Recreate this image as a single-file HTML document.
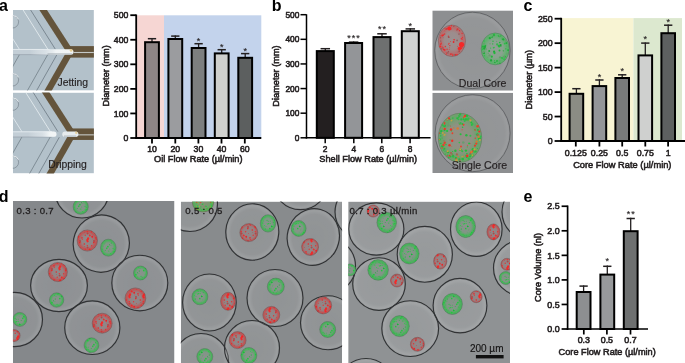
<!DOCTYPE html>
<html><head><meta charset="utf-8"><title>Figure</title>
<style>
html,body{margin:0;padding:0;background:#fff;}
body{width:685px;height:363px;overflow:hidden;}
svg{display:block;}
text{font-family:"Liberation Sans", Arial, Helvetica, sans-serif;}
.c text{stroke:#231f20;stroke-width:0.55px;}
.pl{stroke:#231f20;stroke-width:0.15px;}
</style></head>
<body>
<svg width="685" height="363" viewBox="0 0 685 363">
<defs>
<pattern id="rsp" width="14" height="14" patternUnits="userSpaceOnUse">
<rect width="14" height="14" fill="#8d8a8b"/>
<circle cx="3.3" cy="7.6" r="0.68" fill="#f42a2a"/>
<circle cx="8.8" cy="0.9" r="0.41" fill="#f42a2a"/>
<circle cx="3.6" cy="3.3" r="1.15" fill="#f42a2a"/>
<circle cx="7.6" cy="7.7" r="0.70" fill="#e03436"/>
<circle cx="3.2" cy="2.1" r="1.09" fill="#f42a2a"/>
<circle cx="10.4" cy="9.4" r="0.45" fill="#e82628"/>
<circle cx="4.2" cy="0.4" r="1.05" fill="#f42a2a"/>
<circle cx="4.2" cy="14.4" r="1.05" fill="#f42a2a"/>
<circle cx="8.3" cy="12.9" r="0.69" fill="#f42a2a"/>
<circle cx="5.5" cy="11.2" r="0.73" fill="#e03436"/>
<circle cx="12.3" cy="1.4" r="0.50" fill="#e03436"/>
<circle cx="3.6" cy="9.4" r="0.98" fill="#a05050"/>
<circle cx="5.9" cy="11.7" r="0.83" fill="#f42a2a"/>
<circle cx="8.2" cy="12.7" r="0.91" fill="#e82628"/>
<circle cx="12.0" cy="-0.1" r="0.90" fill="#e03436"/>
<circle cx="12.0" cy="13.9" r="0.90" fill="#e03436"/>
<circle cx="9.8" cy="4.6" r="0.81" fill="#e82628"/>
<circle cx="10.0" cy="3.0" r="1.02" fill="#a05050"/>
<circle cx="4.0" cy="0.9" r="1.04" fill="#f42a2a"/>
<circle cx="4.0" cy="14.9" r="1.04" fill="#f42a2a"/>
<circle cx="1.2" cy="11.2" r="0.71" fill="#e03436"/>
<circle cx="0.3" cy="6.0" r="0.71" fill="#e82628"/>
<circle cx="14.3" cy="6.0" r="0.71" fill="#e82628"/>
<circle cx="0.6" cy="8.6" r="0.43" fill="#a05050"/>
</pattern>
<pattern id="gsp" width="14" height="14" patternUnits="userSpaceOnUse">
<rect width="14" height="14" fill="#8a918d"/>
<circle cx="8.7" cy="10.4" r="0.79" fill="#1ec83c"/>
<circle cx="11.8" cy="10.9" r="0.49" fill="#1ec83c"/>
<circle cx="12.6" cy="1.6" r="0.61" fill="#30cc4a"/>
<circle cx="5.3" cy="1.4" r="0.49" fill="#30cc4a"/>
<circle cx="5.7" cy="2.5" r="0.83" fill="#18b03a"/>
<circle cx="2.2" cy="11.2" r="0.43" fill="#18b03a"/>
<circle cx="1.8" cy="0.0" r="0.83" fill="#30cc4a"/>
<circle cx="1.8" cy="14.0" r="0.83" fill="#30cc4a"/>
<circle cx="10.8" cy="13.4" r="0.44" fill="#30cc4a"/>
<circle cx="4.1" cy="-0.5" r="0.65" fill="#30cc4a"/>
<circle cx="4.1" cy="13.5" r="0.65" fill="#30cc4a"/>
<circle cx="2.5" cy="-0.4" r="0.46" fill="#18b03a"/>
<circle cx="2.5" cy="13.6" r="0.46" fill="#18b03a"/>
<circle cx="4.2" cy="5.1" r="0.44" fill="#30cc4a"/>
<circle cx="3.7" cy="4.6" r="0.80" fill="#1ec83c"/>
<circle cx="8.3" cy="9.9" r="0.39" fill="#5aa868"/>
<circle cx="11.5" cy="6.7" r="0.52" fill="#18b03a"/>
<circle cx="6.6" cy="2.5" r="0.49" fill="#1ec83c"/>
<circle cx="13.3" cy="5.0" r="0.57" fill="#18b03a"/>
<circle cx="5.1" cy="8.1" r="0.35" fill="#1ec83c"/>
<circle cx="9.9" cy="8.7" r="0.87" fill="#1ec83c"/>
<circle cx="10.6" cy="13.0" r="0.87" fill="#5aa868"/>
<circle cx="7.2" cy="12.5" r="0.49" fill="#18b03a"/>
<circle cx="1.5" cy="10.5" r="0.79" fill="#5aa868"/>
<circle cx="0.5" cy="13.2" r="0.40" fill="#5aa868"/>
<circle cx="7.2" cy="5.1" r="0.43" fill="#5aa868"/>
<circle cx="12.9" cy="7.6" r="0.52" fill="#5aa868"/>
<circle cx="4.3" cy="11.2" r="0.69" fill="#5aa868"/>
<circle cx="-0.0" cy="2.3" r="0.38" fill="#18b03a"/>
<circle cx="14.0" cy="2.3" r="0.38" fill="#18b03a"/>
<circle cx="0.4" cy="10.4" r="0.54" fill="#5aa868"/>
<circle cx="14.4" cy="10.4" r="0.54" fill="#5aa868"/>
<circle cx="6.4" cy="5.9" r="0.38" fill="#1ec83c"/>
</pattern>
<pattern id="qsp" width="14" height="14" patternUnits="userSpaceOnUse">
<rect width="14" height="14" fill="#918c8c"/>
<circle cx="6.3" cy="7.8" r="0.86" fill="#c84040"/>
<circle cx="6.3" cy="12.0" r="0.45" fill="#c84040"/>
<circle cx="8.8" cy="11.1" r="0.40" fill="#c84040"/>
<circle cx="2.0" cy="7.5" r="0.84" fill="#d83030"/>
<circle cx="8.3" cy="5.5" r="0.60" fill="#d83030"/>
<circle cx="8.7" cy="11.6" r="0.38" fill="#d83030"/>
<circle cx="2.7" cy="3.4" r="0.37" fill="#c84040"/>
<circle cx="4.6" cy="8.3" r="0.46" fill="#d83030"/>
<circle cx="9.0" cy="7.0" r="0.71" fill="#c84040"/>
<circle cx="9.2" cy="5.7" r="0.65" fill="#d83030"/>
</pattern>
<pattern id="msp" width="14" height="14" patternUnits="userSpaceOnUse">
<rect width="14" height="14" fill="#8c8f7c"/>
<circle cx="6.5" cy="5.2" r="0.43" fill="#2fb84e"/>
<circle cx="4.7" cy="6.5" r="0.68" fill="#e0402a"/>
<circle cx="7.8" cy="8.6" r="0.37" fill="#d08a3a"/>
<circle cx="2.4" cy="-0.8" r="0.87" fill="#d08a3a"/>
<circle cx="2.4" cy="13.2" r="0.87" fill="#d08a3a"/>
<circle cx="2.2" cy="3.3" r="0.41" fill="#c8a040"/>
<circle cx="12.2" cy="-0.1" r="0.38" fill="#d08a3a"/>
<circle cx="12.2" cy="13.9" r="0.38" fill="#d08a3a"/>
<circle cx="11.1" cy="12.4" r="0.86" fill="#3cc45a"/>
<circle cx="9.4" cy="10.2" r="0.58" fill="#2fb84e"/>
<circle cx="10.8" cy="12.8" r="0.57" fill="#e0402a"/>
<circle cx="11.3" cy="2.8" r="0.84" fill="#d08a3a"/>
<circle cx="0.8" cy="5.3" r="0.62" fill="#2fb84e"/>
<circle cx="3.3" cy="10.3" r="0.82" fill="#c8a040"/>
<circle cx="0.1" cy="10.7" r="0.46" fill="#3cc45a"/>
<circle cx="14.1" cy="10.7" r="0.46" fill="#3cc45a"/>
<circle cx="4.6" cy="12.5" r="0.42" fill="#2fb84e"/>
<circle cx="7.0" cy="8.0" r="0.65" fill="#3cc45a"/>
<circle cx="5.9" cy="5.6" r="0.70" fill="#2fb84e"/>
<circle cx="9.8" cy="2.0" r="0.87" fill="#2fb84e"/>
<circle cx="0.8" cy="7.8" r="0.68" fill="#3cc45a"/>
<circle cx="10.4" cy="10.3" r="0.67" fill="#2fb84e"/>
<circle cx="1.7" cy="9.9" r="0.87" fill="#3cc45a"/>
<circle cx="2.3" cy="7.1" r="0.75" fill="#c8a040"/>
<circle cx="8.3" cy="10.8" r="0.40" fill="#e0402a"/>
<circle cx="1.5" cy="12.3" r="0.55" fill="#3cc45a"/>
<circle cx="5.6" cy="-0.2" r="0.67" fill="#2fb84e"/>
<circle cx="5.6" cy="13.8" r="0.67" fill="#2fb84e"/>
<circle cx="5.3" cy="8.5" r="0.35" fill="#2fb84e"/>
<circle cx="3.0" cy="6.2" r="0.53" fill="#2fb84e"/>
<circle cx="4.3" cy="4.0" r="0.63" fill="#2fb84e"/>
<circle cx="0.4" cy="10.9" r="0.79" fill="#d08a3a"/>
<circle cx="14.4" cy="10.9" r="0.79" fill="#d08a3a"/>
<circle cx="4.8" cy="10.9" r="0.66" fill="#2fb84e"/>
<circle cx="6.0" cy="3.2" r="0.88" fill="#d08a3a"/>
<circle cx="7.1" cy="-0.6" r="0.66" fill="#3cc45a"/>
<circle cx="7.1" cy="13.4" r="0.66" fill="#3cc45a"/>
<circle cx="9.3" cy="2.4" r="0.81" fill="#e0402a"/>
<circle cx="0.4" cy="13.2" r="0.80" fill="#e0402a"/>
<circle cx="14.4" cy="13.2" r="0.80" fill="#e0402a"/>
<circle cx="13.3" cy="-0.2" r="0.68" fill="#2fb84e"/>
<circle cx="13.3" cy="13.8" r="0.68" fill="#2fb84e"/>
<circle cx="0.7" cy="6.3" r="0.78" fill="#e0402a"/>
<circle cx="14.7" cy="6.3" r="0.78" fill="#e0402a"/>
<circle cx="8.6" cy="-0.5" r="0.54" fill="#3cc45a"/>
<circle cx="8.6" cy="13.5" r="0.54" fill="#3cc45a"/>
<circle cx="6.7" cy="3.9" r="0.88" fill="#c8a040"/>
<circle cx="4.1" cy="1.7" r="0.58" fill="#3cc45a"/>
<circle cx="9.9" cy="10.7" r="0.56" fill="#3cc45a"/>
<circle cx="9.3" cy="3.8" r="0.68" fill="#c8a040"/>
<circle cx="6.9" cy="1.4" r="0.38" fill="#c8a040"/>
<circle cx="1.8" cy="11.2" r="0.80" fill="#3cc45a"/>
<circle cx="10.9" cy="3.1" r="0.36" fill="#3cc45a"/>
<circle cx="6.6" cy="8.3" r="0.65" fill="#2fb84e"/>
</pattern>
<linearGradient id="jetg" x1="0" y1="0" x2="1" y2="0">
  <stop offset="0" stop-color="#eef2f3" stop-opacity="0"/><stop offset="0.35" stop-color="#e4eaee" stop-opacity="0.6"/>
  <stop offset="0.6" stop-color="#f0f4f5"/><stop offset="1" stop-color="#f2f5f6"/>
</linearGradient>
<linearGradient id="jetg2" x1="0" y1="0" x2="1" y2="0">
  <stop offset="0" stop-color="#eef2f3" stop-opacity="0"/><stop offset="0.5" stop-color="#e4eaee" stop-opacity="0.6"/>
  <stop offset="0.75" stop-color="#f0f4f5"/><stop offset="1" stop-color="#f2f5f6"/>
</linearGradient>
<filter id="soft" x="-5%" y="-5%" width="110%" height="110%"><feGaussianBlur stdDeviation="0.35"/></filter>
<radialGradient id="dropg" cx="0.5" cy="0.5" r="0.5">
  <stop offset="0" stop-color="#fff" stop-opacity="0.07"/><stop offset="0.8" stop-color="#fff" stop-opacity="0.09"/>
  <stop offset="0.93" stop-color="#fff" stop-opacity="0.17"/><stop offset="1" stop-color="#fff" stop-opacity="0.05"/>
</radialGradient>
<radialGradient id="dropb" cx="0.5" cy="0.5" r="0.5">
  <stop offset="0" stop-color="#fff" stop-opacity="0.05"/><stop offset="0.85" stop-color="#fff" stop-opacity="0.065"/>
  <stop offset="0.95" stop-color="#fff" stop-opacity="0.12"/><stop offset="1" stop-color="#fff" stop-opacity="0.04"/>
</radialGradient>
<radialGradient id="gring" cx="0.5" cy="0.5" r="0.5">
  <stop offset="0" stop-color="#24c43e" stop-opacity="0"/><stop offset="0.55" stop-color="#24c43e" stop-opacity="0.08"/>
  <stop offset="0.86" stop-color="#1ec83a" stop-opacity="0.62"/><stop offset="1" stop-color="#1ec83a" stop-opacity="0.45"/>
</radialGradient>
<radialGradient id="rring" cx="0.5" cy="0.5" r="0.5">
  <stop offset="0" stop-color="#e02828" stop-opacity="0"/><stop offset="0.55" stop-color="#e02828" stop-opacity="0.06"/>
  <stop offset="0.86" stop-color="#ec2424" stop-opacity="0.55"/><stop offset="1" stop-color="#ec2424" stop-opacity="0.35"/>
</radialGradient>
<radialGradient id="qring" cx="0.5" cy="0.5" r="0.5">
  <stop offset="0" stop-color="#e02828" stop-opacity="0"/><stop offset="0.7" stop-color="#e02828" stop-opacity="0.1"/>
  <stop offset="0.92" stop-color="#e02828" stop-opacity="0.5"/><stop offset="1" stop-color="#e02828" stop-opacity="0.3"/>
</radialGradient>
<radialGradient id="mring" cx="0.5" cy="0.5" r="0.5">
  <stop offset="0" stop-color="#40b050" stop-opacity="0.05"/><stop offset="0.6" stop-color="#30c040" stop-opacity="0.2"/>
  <stop offset="0.86" stop-color="#28c43c" stop-opacity="0.55"/><stop offset="1" stop-color="#28c43c" stop-opacity="0.4"/>
</radialGradient>
</defs>
<rect width="685" height="363" fill="#fff"/>
<clipPath id="cpa1"><rect x="12.9" y="10.0" width="81.0" height="80.6"/></clipPath>
<g clip-path="url(#cpa1)">
<rect x="12.9" y="10.0" width="81.0" height="80.6" fill="#b3c1ca"/>
<rect x="12.9" y="49.25" width="38.6" height="5.4" fill="#c3ced6"/>
<line x1="12.9" y1="49.45" x2="49.5" y2="49.45" stroke="#eef3f5" stroke-width="0.8"/>
<line x1="12.9" y1="54.65" x2="49.5" y2="54.65" stroke="#8d99a2" stroke-width="0.6"/>
<line x1="21.24" y1="7.0" x2="47.86" y2="49.25" stroke="#eaf0f3" stroke-width="0.8"/>
<line x1="28.74" y1="7.0" x2="55.36" y2="49.25" stroke="#56626c" stroke-width="0.6"/>
<line x1="-7.26" y1="7.0" x2="19.36" y2="49.25" stroke="#e6edf1" stroke-width="0.8"/>
<line x1="47.60" y1="54.85" x2="25.71" y2="93.6" stroke="#5d6972" stroke-width="0.6"/>
<line x1="56.80" y1="54.85" x2="34.91" y2="93.6" stroke="#56626c" stroke-width="0.6"/>
<line x1="19.30" y1="54.85" x2="-2.59" y2="93.6" stroke="#5d6972" stroke-width="0.6"/>
<line x1="41.24" y1="7.0" x2="70.10" y2="51.85" stroke="#64543b" stroke-width="6.4"/>
<line x1="70.10" y1="51.85" x2="46.41" y2="93.6" stroke="#64543b" stroke-width="6.4"/>
<rect x="69.5" y="46.1" width="81.0" height="11.5" fill="#64543b"/>
<rect x="73.5" y="51.95" width="81.0" height="1.1" fill="#c4c8c6"/>
<circle cx="12.4" cy="21.85" r="6.2" fill="#b8c5cd" stroke="#6f7b84" stroke-width="0.6"/>
<path d="M 12.9 15.55 A 6.3 6.3 0 0 1 18.5 19.35" fill="none" stroke="#eef3f5" stroke-width="0.9"/>
<circle cx="12.4" cy="79.85" r="6.2" fill="#b8c5cd" stroke="#6f7b84" stroke-width="0.6"/>
<path d="M 12.9 73.55 A 6.3 6.3 0 0 1 18.5 77.35" fill="none" stroke="#eef3f5" stroke-width="0.9"/>
<rect x="29.5" y="49.15" width="44" height="5.5" rx="2.75" fill="url(#jetg)"/>
<rect x="47.5" y="53.25" width="25" height="1.4" fill="#9aa5ac" opacity="0.6"/>
<circle cx="71.1" cy="50.45" r="1.4" fill="#e5c98a" opacity="0.85"/>
</g>
<clipPath id="cpa2"><rect x="12.9" y="92.6" width="81.0" height="80.8"/></clipPath>
<g clip-path="url(#cpa2)">
<rect x="12.9" y="92.6" width="81.0" height="80.8" fill="#b3c1ca"/>
<rect x="12.9" y="131.6" width="41.1" height="5.4" fill="#c3ced6"/>
<line x1="12.9" y1="131.79999999999998" x2="52.0" y2="131.79999999999998" stroke="#eef3f5" stroke-width="0.8"/>
<line x1="12.9" y1="137.0" x2="52.0" y2="137.0" stroke="#8d99a2" stroke-width="0.6"/>
<line x1="23.90" y1="89.6" x2="50.36" y2="131.6" stroke="#eaf0f3" stroke-width="0.8"/>
<line x1="31.40" y1="89.6" x2="57.86" y2="131.6" stroke="#56626c" stroke-width="0.6"/>
<line x1="-4.60" y1="89.6" x2="21.86" y2="131.6" stroke="#e6edf1" stroke-width="0.8"/>
<line x1="50.10" y1="137.2" x2="27.96" y2="176.39999999999998" stroke="#5d6972" stroke-width="0.6"/>
<line x1="59.30" y1="137.2" x2="37.16" y2="176.39999999999998" stroke="#56626c" stroke-width="0.6"/>
<line x1="21.80" y1="137.2" x2="-0.34" y2="176.39999999999998" stroke="#5d6972" stroke-width="0.6"/>
<line x1="43.90" y1="89.6" x2="72.60" y2="134.2" stroke="#64543b" stroke-width="6.4"/>
<line x1="72.60" y1="134.2" x2="48.66" y2="176.39999999999998" stroke="#64543b" stroke-width="6.4"/>
<rect x="72.0" y="128.45" width="81.0" height="11.5" fill="#64543b"/>
<rect x="76.0" y="134.29999999999998" width="81.0" height="1.1" fill="#c4c8c6"/>
<circle cx="12.4" cy="104.19999999999999" r="6.2" fill="#b8c5cd" stroke="#6f7b84" stroke-width="0.6"/>
<path d="M 12.9 97.89999999999999 A 6.3 6.3 0 0 1 18.5 101.69999999999999" fill="none" stroke="#eef3f5" stroke-width="0.9"/>
<circle cx="12.4" cy="162.2" r="6.2" fill="#b8c5cd" stroke="#6f7b84" stroke-width="0.6"/>
<path d="M 12.9 155.89999999999998 A 6.3 6.3 0 0 1 18.5 159.7" fill="none" stroke="#eef3f5" stroke-width="0.9"/>
<rect x="28.0" y="131.6" width="28.5" height="5.2" rx="2.6" fill="url(#jetg2)"/>
<rect x="62.3" y="131.6" width="16.1" height="5.4" rx="2.7" fill="#e6ebed"/>
<rect x="64.0" y="135.5" width="12" height="1.3" fill="#9aa4aa" opacity="0.6"/>
<circle cx="76.3" cy="132.79999999999998" r="1.2" fill="#e5c98a" opacity="0.8"/>
</g>
<text x="57.50" y="85.70" font-size="10.4" text-anchor="start" font-weight="normal" fill="#231f20" class="pl">Jetting</text>
<text x="48.20" y="167.80" font-size="10.4" text-anchor="start" font-weight="normal" fill="#231f20" class="pl">Dripping</text>
<clipPath id="cpb1"><rect x="432.3" y="10.4" width="80.7" height="80.3"/></clipPath>
<g clip-path="url(#cpb1)">
<rect x="432.3" y="10.4" width="80.7" height="80.3" fill="#8d8f91"/>
<g filter="url(#soft)">
<ellipse cx="472.4" cy="50.4" rx="37.7" ry="38.2" fill="url(#dropb)" stroke="#55575a" stroke-width="0.75"/>
</g></g>
<ellipse cx="451.9" cy="40.8" rx="13.6" ry="15.8" fill="#9a9090" stroke="#6a5858" stroke-width="0.5"/>
<ellipse cx="451.9" cy="40.8" rx="13.6" ry="15.8" fill="url(#rring)" opacity="0.6"/>
<circle cx="448.4" cy="36.2" r="0.69" fill="#d8383a"/>
<circle cx="457.1" cy="54.6" r="0.72" fill="#e8242a"/>
<circle cx="450.5" cy="41.6" r="0.49" fill="#d8383a"/>
<circle cx="440.3" cy="46.4" r="1.00" fill="#f42828"/>
<circle cx="440.8" cy="41.0" r="0.47" fill="#a05050"/>
<circle cx="453.6" cy="42.0" r="0.89" fill="#e8242a"/>
<circle cx="447.1" cy="49.3" r="0.69" fill="#d8383a"/>
<circle cx="463.1" cy="47.4" r="0.52" fill="#906060"/>
<circle cx="440.9" cy="35.8" r="0.63" fill="#a05050"/>
<circle cx="441.3" cy="48.6" r="0.62" fill="#f42828"/>
<circle cx="450.8" cy="54.2" r="0.90" fill="#d8383a"/>
<circle cx="440.8" cy="41.1" r="0.69" fill="#906060"/>
<circle cx="442.8" cy="35.7" r="0.59" fill="#906060"/>
<circle cx="448.8" cy="37.2" r="0.90" fill="#a05050"/>
<circle cx="449.2" cy="49.2" r="0.46" fill="#e8242a"/>
<circle cx="458.0" cy="52.0" r="0.42" fill="#906060"/>
<circle cx="441.6" cy="48.7" r="0.99" fill="#906060"/>
<circle cx="446.1" cy="29.1" r="0.96" fill="#d8383a"/>
<circle cx="453.8" cy="26.4" r="0.69" fill="#a05050"/>
<circle cx="442.3" cy="47.0" r="0.50" fill="#e8242a"/>
<circle cx="459.3" cy="52.0" r="0.49" fill="#f42828"/>
<circle cx="462.1" cy="33.4" r="0.69" fill="#d8383a"/>
<circle cx="444.7" cy="49.9" r="0.86" fill="#f42828"/>
<circle cx="448.4" cy="51.6" r="0.72" fill="#a05050"/>
<circle cx="448.3" cy="44.6" r="0.48" fill="#e8242a"/>
<circle cx="462.4" cy="37.3" r="0.65" fill="#f42828"/>
<circle cx="459.2" cy="50.9" r="0.49" fill="#f42828"/>
<circle cx="459.2" cy="51.1" r="0.92" fill="#a05050"/>
<circle cx="449.8" cy="45.6" r="0.70" fill="#d8383a"/>
<circle cx="455.7" cy="54.8" r="0.85" fill="#e8242a"/>
<circle cx="451.6" cy="29.0" r="0.43" fill="#e8242a"/>
<circle cx="445.4" cy="46.4" r="0.74" fill="#d8383a"/>
<circle cx="449.3" cy="47.8" r="0.43" fill="#f42828"/>
<circle cx="457.1" cy="40.4" r="0.89" fill="#906060"/>
<circle cx="443.1" cy="37.8" r="0.44" fill="#906060"/>
<circle cx="447.8" cy="52.9" r="0.82" fill="#906060"/>
<circle cx="446.4" cy="53.1" r="0.52" fill="#e8242a"/>
<circle cx="457.6" cy="46.2" r="0.45" fill="#e8242a"/>
<circle cx="462.1" cy="39.1" r="0.70" fill="#e8242a"/>
<circle cx="441.3" cy="43.1" r="0.71" fill="#f42828"/>
<circle cx="463.6" cy="44.5" r="0.57" fill="#906060"/>
<circle cx="440.5" cy="44.5" r="0.54" fill="#f42828"/>
<circle cx="444.7" cy="28.5" r="0.42" fill="#d8383a"/>
<circle cx="459.0" cy="34.0" r="0.87" fill="#906060"/>
<circle cx="448.5" cy="29.0" r="0.81" fill="#d8383a"/>
<circle cx="443.7" cy="49.5" r="0.71" fill="#e8242a"/>
<circle cx="449.2" cy="26.4" r="0.45" fill="#d8383a"/>
<circle cx="451.3" cy="25.8" r="0.68" fill="#e8242a"/>
<circle cx="446.9" cy="28.8" r="0.62" fill="#906060"/>
<circle cx="446.2" cy="54.3" r="0.55" fill="#d8383a"/>
<circle cx="452.8" cy="55.1" r="0.81" fill="#f42828"/>
<circle cx="440.9" cy="44.0" r="0.80" fill="#d8383a"/>
<circle cx="460.6" cy="48.0" r="0.99" fill="#d8383a"/>
<circle cx="454.1" cy="39.7" r="0.82" fill="#e8242a"/>
<circle cx="449.0" cy="43.3" r="0.66" fill="#f42828"/>
<circle cx="461.6" cy="48.4" r="0.59" fill="#f42828"/>
<circle cx="442.3" cy="35.5" r="0.95" fill="#f42828"/>
<circle cx="443.1" cy="47.9" r="0.73" fill="#d8383a"/>
<circle cx="443.4" cy="35.0" r="0.68" fill="#e8242a"/>
<circle cx="457.6" cy="29.3" r="0.99" fill="#d8383a"/>
<circle cx="440.5" cy="37.8" r="0.69" fill="#a05050"/>
<circle cx="444.9" cy="30.9" r="0.41" fill="#e8242a"/>
<circle cx="456.8" cy="30.1" r="0.62" fill="#a05050"/>
<circle cx="447.0" cy="28.6" r="0.79" fill="#d8383a"/>
<circle cx="451.9" cy="53.8" r="0.52" fill="#d8383a"/>
<circle cx="461.7" cy="46.9" r="0.90" fill="#d8383a"/>
<circle cx="444.6" cy="34.1" r="0.78" fill="#d8383a"/>
<circle cx="459.5" cy="30.7" r="0.66" fill="#e8242a"/>
<circle cx="454.4" cy="54.9" r="0.87" fill="#906060"/>
<circle cx="461.3" cy="38.7" r="0.63" fill="#f42828"/>
<circle cx="449.3" cy="28.4" r="2.0" fill="#f42828"/><circle cx="461.5" cy="44.5" r="2.6" fill="#f42828"/><circle cx="459.5" cy="48.5" r="1.8" fill="#f42828"/>
<ellipse cx="495.2" cy="48.9" rx="14.0" ry="15.9" fill="#90a094" stroke="#4a6a52" stroke-width="0.5"/>
<ellipse cx="495.2" cy="48.9" rx="14.0" ry="15.9" fill="url(#gring)" opacity="0.75"/>
<circle cx="505.8" cy="48.8" r="0.63" fill="#22b83c"/>
<circle cx="498.3" cy="36.2" r="0.56" fill="#6a9c70"/>
<circle cx="506.4" cy="43.1" r="0.98" fill="#20a83a"/>
<circle cx="484.1" cy="41.0" r="0.72" fill="#30bc4a"/>
<circle cx="493.6" cy="35.3" r="1.19" fill="#6a9a70"/>
<circle cx="499.8" cy="60.8" r="0.78" fill="#6a9a70"/>
<circle cx="492.7" cy="43.9" r="0.63" fill="#22b83c"/>
<circle cx="488.3" cy="53.2" r="0.68" fill="#6a9c70"/>
<circle cx="506.0" cy="41.8" r="0.72" fill="#6a9c70"/>
<circle cx="483.9" cy="43.7" r="0.87" fill="#6a9a70"/>
<circle cx="504.8" cy="56.7" r="1.05" fill="#22b83c"/>
<circle cx="482.3" cy="47.8" r="0.78" fill="#22b83c"/>
<circle cx="487.7" cy="57.3" r="0.63" fill="#6a9c70"/>
<circle cx="502.3" cy="58.0" r="1.05" fill="#30bc4a"/>
<circle cx="503.2" cy="57.6" r="0.60" fill="#6a9a70"/>
<circle cx="486.1" cy="49.0" r="0.87" fill="#6a9a70"/>
<circle cx="499.7" cy="42.6" r="0.83" fill="#22b83c"/>
<circle cx="500.6" cy="35.7" r="0.93" fill="#22b83c"/>
<circle cx="494.0" cy="47.4" r="0.74" fill="#30bc4a"/>
<circle cx="491.9" cy="37.4" r="0.62" fill="#22b83c"/>
<circle cx="497.5" cy="60.9" r="0.68" fill="#22b83c"/>
<circle cx="484.6" cy="51.2" r="0.65" fill="#6a9c70"/>
<circle cx="490.6" cy="48.1" r="0.63" fill="#30bc4a"/>
<circle cx="503.3" cy="50.8" r="0.64" fill="#20a83a"/>
<circle cx="484.3" cy="55.8" r="0.68" fill="#30bc4a"/>
<circle cx="499.3" cy="46.7" r="0.90" fill="#30bc4a"/>
<circle cx="507.1" cy="53.9" r="0.85" fill="#6a9a70"/>
<circle cx="493.0" cy="41.2" r="0.69" fill="#22b83c"/>
<circle cx="489.2" cy="51.0" r="0.96" fill="#20a83a"/>
<circle cx="502.7" cy="39.0" r="1.07" fill="#22b83c"/>
<circle cx="504.0" cy="56.9" r="1.09" fill="#6a9a70"/>
<circle cx="482.3" cy="47.7" r="0.63" fill="#6a9c70"/>
<circle cx="482.4" cy="49.3" r="0.85" fill="#30bc4a"/>
<circle cx="503.4" cy="39.5" r="1.03" fill="#20a83a"/>
<circle cx="492.3" cy="36.9" r="0.56" fill="#20a83a"/>
<circle cx="502.3" cy="37.9" r="0.64" fill="#6a9c70"/>
<circle cx="482.9" cy="46.5" r="1.04" fill="#22b83c"/>
<circle cx="499.5" cy="50.5" r="0.94" fill="#22b83c"/>
<circle cx="484.2" cy="48.5" r="1.16" fill="#20a83a"/>
<circle cx="485.5" cy="45.4" r="0.73" fill="#22b83c"/>
<circle cx="487.8" cy="37.1" r="0.72" fill="#6a9c70"/>
<circle cx="490.9" cy="60.2" r="1.12" fill="#6a9c70"/>
<circle cx="497.2" cy="44.3" r="1.14" fill="#30bc4a"/>
<circle cx="499.7" cy="36.8" r="0.71" fill="#6a9a70"/>
<circle cx="500.6" cy="45.1" r="1.13" fill="#20a83a"/>
<circle cx="497.8" cy="63.5" r="0.59" fill="#30bc4a"/>
<circle cx="484.2" cy="53.4" r="0.68" fill="#30bc4a"/>
<circle cx="499.0" cy="36.1" r="0.85" fill="#22b83c"/>
<circle cx="489.8" cy="38.2" r="1.13" fill="#20a83a"/>
<circle cx="499.7" cy="35.6" r="0.97" fill="#6a9c70"/>
<circle cx="500.9" cy="46.2" r="0.58" fill="#20a83a"/>
<circle cx="498.3" cy="35.6" r="0.69" fill="#30bc4a"/>
<circle cx="493.5" cy="47.8" r="0.71" fill="#30bc4a"/>
<circle cx="494.3" cy="34.4" r="0.81" fill="#30bc4a"/>
<circle cx="483.9" cy="53.0" r="1.06" fill="#20a83a"/>
<circle cx="496.6" cy="41.3" r="0.66" fill="#6a9a70"/>
<circle cx="504.7" cy="43.6" r="0.93" fill="#30bc4a"/>
<circle cx="489.6" cy="55.4" r="1.19" fill="#6a9a70"/>
<circle cx="506.5" cy="46.1" r="0.60" fill="#6a9a70"/>
<circle cx="504.1" cy="59.3" r="0.98" fill="#30bc4a"/>
<circle cx="494.6" cy="35.3" r="0.51" fill="#30bc4a"/>
<circle cx="500.1" cy="57.4" r="1.16" fill="#6a9a70"/>
<circle cx="494.5" cy="60.7" r="0.58" fill="#30bc4a"/>
<circle cx="494.9" cy="62.5" r="0.81" fill="#20a83a"/>
<circle cx="491.8" cy="56.7" r="1.09" fill="#22b83c"/>
<circle cx="484.9" cy="46.7" r="1.18" fill="#20a83a"/>
<circle cx="493.9" cy="35.6" r="0.66" fill="#20a83a"/>
<circle cx="490.0" cy="43.7" r="0.69" fill="#6a9c70"/>
<circle cx="505.9" cy="40.6" r="0.98" fill="#6a9a70"/>
<circle cx="508.1" cy="50.1" r="0.96" fill="#20a83a"/>
<circle cx="497.4" cy="45.6" r="0.77" fill="#6a9c70"/>
<circle cx="498.9" cy="46.0" r="1.15" fill="#22b83c"/>
<circle cx="494.1" cy="51.7" r="1.08" fill="#20a83a"/>
<circle cx="499.9" cy="63.2" r="0.80" fill="#20a83a"/>
<circle cx="493.8" cy="34.8" r="0.76" fill="#22b83c"/>
<circle cx="501.5" cy="57.8" r="0.80" fill="#30bc4a"/>
<circle cx="494.5" cy="53.0" r="1.13" fill="#22b83c"/>
<circle cx="483.5" cy="52.3" r="0.93" fill="#6a9a70"/>
<circle cx="491.1" cy="60.4" r="1.10" fill="#20a83a"/>
<circle cx="496.7" cy="61.1" r="0.75" fill="#20a83a"/>
<clipPath id="cpb2"><rect x="432.3" y="92.7" width="80.7" height="80.3"/></clipPath>
<g clip-path="url(#cpb2)">
<rect x="432.3" y="92.7" width="80.7" height="80.3" fill="#8d8f91"/>
<g filter="url(#soft)">
<ellipse cx="472.6" cy="133.2" rx="37.5" ry="38.5" fill="url(#dropb)" stroke="#55575a" stroke-width="0.75"/>
</g></g>
<ellipse cx="460.0" cy="137.8" rx="21.7" ry="24.5" fill="#948f86" stroke="#5a6a50" stroke-width="0.5"/>
<ellipse cx="460.0" cy="137.8" rx="21.7" ry="24.5" fill="url(#gring)" opacity="0.6"/>
<circle cx="475.6" cy="123.7" r="0.57" fill="#6a9c70"/>
<circle cx="466.0" cy="155.6" r="0.86" fill="#30bc4a"/>
<circle cx="472.9" cy="149.2" r="1.29" fill="#28b840"/>
<circle cx="447.6" cy="155.0" r="0.55" fill="#22c03c"/>
<circle cx="448.4" cy="125.4" r="1.28" fill="#6a9c70"/>
<circle cx="475.4" cy="134.3" r="0.73" fill="#6a9c70"/>
<circle cx="466.9" cy="153.8" r="0.89" fill="#28b840"/>
<circle cx="440.5" cy="133.1" r="1.04" fill="#30bc4a"/>
<circle cx="443.4" cy="129.3" r="1.25" fill="#6a9c70"/>
<circle cx="455.7" cy="157.5" r="0.74" fill="#28b840"/>
<circle cx="463.5" cy="119.3" r="1.07" fill="#28b840"/>
<circle cx="442.9" cy="125.1" r="1.26" fill="#30bc4a"/>
<circle cx="445.0" cy="151.2" r="0.63" fill="#30bc4a"/>
<circle cx="465.8" cy="119.5" r="1.26" fill="#28b840"/>
<circle cx="445.2" cy="154.1" r="0.65" fill="#22c03c"/>
<circle cx="440.9" cy="143.5" r="0.74" fill="#22c03c"/>
<circle cx="443.6" cy="132.6" r="1.15" fill="#6a9c70"/>
<circle cx="461.2" cy="119.4" r="1.03" fill="#28b840"/>
<circle cx="452.8" cy="118.2" r="0.83" fill="#30bc4a"/>
<circle cx="471.3" cy="122.5" r="0.99" fill="#22c03c"/>
<circle cx="450.5" cy="156.6" r="0.95" fill="#28b840"/>
<circle cx="469.1" cy="143.4" r="0.95" fill="#22c03c"/>
<circle cx="450.1" cy="139.9" r="0.86" fill="#6a9c70"/>
<circle cx="472.5" cy="155.2" r="1.19" fill="#30bc4a"/>
<circle cx="459.5" cy="116.1" r="1.26" fill="#28b840"/>
<circle cx="441.2" cy="132.5" r="0.94" fill="#6a9c70"/>
<circle cx="461.6" cy="149.8" r="0.55" fill="#28b840"/>
<circle cx="444.4" cy="148.7" r="1.04" fill="#28b840"/>
<circle cx="448.8" cy="157.4" r="0.81" fill="#28b840"/>
<circle cx="460.7" cy="115.7" r="1.21" fill="#6a9c70"/>
<circle cx="480.3" cy="136.1" r="0.62" fill="#6a9c70"/>
<circle cx="444.6" cy="130.2" r="0.85" fill="#22c03c"/>
<circle cx="460.2" cy="149.8" r="1.29" fill="#28b840"/>
<circle cx="459.3" cy="142.6" r="0.79" fill="#30bc4a"/>
<circle cx="467.0" cy="154.6" r="0.91" fill="#6a9c70"/>
<circle cx="448.5" cy="118.7" r="0.64" fill="#22c03c"/>
<circle cx="447.5" cy="126.0" r="0.61" fill="#6a9c70"/>
<circle cx="447.1" cy="131.0" r="1.12" fill="#22c03c"/>
<circle cx="452.5" cy="154.0" r="0.61" fill="#22c03c"/>
<circle cx="480.7" cy="136.6" r="1.11" fill="#30bc4a"/>
<circle cx="446.0" cy="144.5" r="0.79" fill="#30bc4a"/>
<circle cx="453.2" cy="156.6" r="1.21" fill="#30bc4a"/>
<circle cx="455.4" cy="150.8" r="1.24" fill="#28b840"/>
<circle cx="460.7" cy="123.0" r="0.93" fill="#30bc4a"/>
<circle cx="458.6" cy="119.3" r="0.88" fill="#30bc4a"/>
<circle cx="453.1" cy="155.8" r="1.04" fill="#28b840"/>
<circle cx="442.1" cy="138.0" r="0.51" fill="#28b840"/>
<circle cx="466.7" cy="157.0" r="1.12" fill="#22c03c"/>
<circle cx="459.4" cy="159.4" r="1.09" fill="#28b840"/>
<circle cx="459.2" cy="123.1" r="1.07" fill="#6a9c70"/>
<circle cx="460.2" cy="114.4" r="1.15" fill="#28b840"/>
<circle cx="443.7" cy="140.9" r="0.62" fill="#6a9c70"/>
<circle cx="464.8" cy="158.1" r="1.02" fill="#6a9c70"/>
<circle cx="442.4" cy="147.1" r="1.23" fill="#6a9c70"/>
<circle cx="462.3" cy="151.2" r="1.04" fill="#30bc4a"/>
<circle cx="463.3" cy="142.4" r="1.24" fill="#6a9c70"/>
<circle cx="477.6" cy="148.6" r="0.57" fill="#22c03c"/>
<circle cx="448.1" cy="123.1" r="0.91" fill="#6a9c70"/>
<circle cx="479.1" cy="138.7" r="1.24" fill="#22c03c"/>
<circle cx="440.0" cy="139.4" r="1.09" fill="#30bc4a"/>
<circle cx="451.4" cy="130.7" r="0.81" fill="#22c03c"/>
<circle cx="464.7" cy="120.9" r="1.01" fill="#30bc4a"/>
<circle cx="477.9" cy="129.9" r="0.95" fill="#28b840"/>
<circle cx="455.9" cy="158.0" r="1.07" fill="#22c03c"/>
<circle cx="465.6" cy="116.2" r="0.61" fill="#30bc4a"/>
<circle cx="474.5" cy="151.5" r="1.17" fill="#30bc4a"/>
<circle cx="444.4" cy="126.1" r="1.25" fill="#30bc4a"/>
<circle cx="468.4" cy="118.6" r="1.07" fill="#30bc4a"/>
<circle cx="452.7" cy="121.0" r="0.80" fill="#6a9c70"/>
<circle cx="448.1" cy="152.1" r="1.21" fill="#28b840"/>
<circle cx="462.6" cy="127.2" r="0.77" fill="#22c03c"/>
<circle cx="470.5" cy="154.8" r="0.95" fill="#22c03c"/>
<circle cx="474.8" cy="129.6" r="0.71" fill="#30bc4a"/>
<circle cx="452.6" cy="151.5" r="0.57" fill="#28b840"/>
<circle cx="475.8" cy="151.5" r="0.93" fill="#28b840"/>
<circle cx="465.9" cy="150.6" r="1.20" fill="#22c03c"/>
<circle cx="460.6" cy="134.2" r="1.05" fill="#22c03c"/>
<circle cx="449.1" cy="119.9" r="1.18" fill="#6a9c70"/>
<circle cx="478.1" cy="127.4" r="0.62" fill="#6a9c70"/>
<circle cx="444.7" cy="125.7" r="1.15" fill="#28b840"/>
<circle cx="457.3" cy="118.3" r="1.08" fill="#22c03c"/>
<circle cx="441.2" cy="131.1" r="1.20" fill="#28b840"/>
<circle cx="462.4" cy="124.1" r="1.03" fill="#22c03c"/>
<circle cx="462.7" cy="159.1" r="1.29" fill="#28b840"/>
<circle cx="444.2" cy="124.4" r="1.15" fill="#6a9c70"/>
<circle cx="470.4" cy="135.8" r="1.05" fill="#30bc4a"/>
<circle cx="443.4" cy="150.0" r="0.80" fill="#30bc4a"/>
<circle cx="475.1" cy="143.5" r="0.80" fill="#6a9c70"/>
<circle cx="474.7" cy="145.0" r="0.60" fill="#30bc4a"/>
<circle cx="447.6" cy="155.8" r="0.58" fill="#6a9c70"/>
<circle cx="459.8" cy="124.2" r="0.86" fill="#30bc4a"/>
<circle cx="475.6" cy="125.2" r="1.10" fill="#6a9c70"/>
<circle cx="470.0" cy="156.4" r="1.01" fill="#22c03c"/>
<circle cx="478.5" cy="143.7" r="0.88" fill="#6a9c70"/>
<circle cx="441.5" cy="146.2" r="0.68" fill="#30bc4a"/>
<circle cx="471.8" cy="124.9" r="0.96" fill="#22c03c"/>
<circle cx="480.3" cy="138.3" r="0.72" fill="#28b840"/>
<circle cx="442.5" cy="146.4" r="1.13" fill="#22c03c"/>
<circle cx="477.3" cy="134.5" r="1.20" fill="#22c03c"/>
<circle cx="468.7" cy="158.7" r="1.17" fill="#30bc4a"/>
<circle cx="440.7" cy="135.8" r="0.83" fill="#30bc4a"/>
<circle cx="467.0" cy="115.8" r="1.22" fill="#22c03c"/>
<circle cx="458.6" cy="117.6" r="0.52" fill="#28b840"/>
<circle cx="472.4" cy="124.0" r="1.11" fill="#30bc4a"/>
<circle cx="467.3" cy="146.9" r="0.58" fill="#30bc4a"/>
<circle cx="466.4" cy="135.2" r="1.18" fill="#28b840"/>
<circle cx="466.9" cy="118.3" r="0.54" fill="#22c03c"/>
<circle cx="467.8" cy="119.9" r="0.88" fill="#22c03c"/>
<circle cx="450.1" cy="119.5" r="0.77" fill="#30bc4a"/>
<circle cx="471.0" cy="119.1" r="1.06" fill="#6a9c70"/>
<circle cx="467.2" cy="155.9" r="1.30" fill="#f03028"/>
<circle cx="457.7" cy="128.5" r="1.30" fill="#d87a30"/>
<circle cx="443.5" cy="145.0" r="1.18" fill="#e8402a"/>
<circle cx="470.4" cy="120.5" r="1.01" fill="#c8a040"/>
<circle cx="470.9" cy="119.2" r="0.54" fill="#d87a30"/>
<circle cx="449.8" cy="119.4" r="0.43" fill="#f03028"/>
<circle cx="470.6" cy="143.4" r="0.49" fill="#a86050"/>
<circle cx="478.6" cy="136.7" r="1.17" fill="#d87a30"/>
<circle cx="444.8" cy="128.9" r="1.11" fill="#f03028"/>
<circle cx="464.0" cy="116.8" r="0.83" fill="#d87a30"/>
<circle cx="439.6" cy="133.1" r="0.62" fill="#f03028"/>
<circle cx="453.7" cy="128.1" r="0.75" fill="#d87a30"/>
<circle cx="459.9" cy="160.4" r="0.57" fill="#a86050"/>
<circle cx="476.8" cy="124.9" r="0.43" fill="#c8a040"/>
<circle cx="476.8" cy="149.8" r="0.47" fill="#d87a30"/>
<circle cx="442.9" cy="133.0" r="0.92" fill="#c8a040"/>
<circle cx="456.2" cy="159.1" r="0.73" fill="#f03028"/>
<circle cx="463.6" cy="124.8" r="0.98" fill="#e8402a"/>
<circle cx="479.8" cy="140.0" r="0.98" fill="#c8a040"/>
<circle cx="458.2" cy="156.4" r="0.74" fill="#d87a30"/>
<circle cx="450.6" cy="145.8" r="0.42" fill="#c8a040"/>
<circle cx="472.2" cy="151.7" r="0.99" fill="#a86050"/>
<circle cx="476.3" cy="143.6" r="1.14" fill="#e8402a"/>
<circle cx="439.4" cy="139.4" r="0.56" fill="#d87a30"/>
<circle cx="470.8" cy="152.7" r="0.85" fill="#e8402a"/>
<circle cx="444.1" cy="135.3" r="0.68" fill="#c8a040"/>
<circle cx="449.0" cy="118.3" r="1.07" fill="#f03028"/>
<circle cx="471.5" cy="151.9" r="1.27" fill="#d87a30"/>
<circle cx="447.1" cy="119.9" r="0.52" fill="#e8402a"/>
<circle cx="451.0" cy="129.6" r="1.25" fill="#f03028"/>
<circle cx="447.8" cy="151.3" r="0.96" fill="#c8a040"/>
<circle cx="444.7" cy="142.8" r="1.18" fill="#e8402a"/>
<circle cx="467.8" cy="120.6" r="0.41" fill="#d87a30"/>
<circle cx="459.9" cy="124.8" r="0.61" fill="#d87a30"/>
<circle cx="456.2" cy="158.2" r="0.43" fill="#d87a30"/>
<circle cx="475.1" cy="130.0" r="0.73" fill="#f03028"/>
<circle cx="463.7" cy="117.3" r="0.75" fill="#e8402a"/>
<circle cx="447.2" cy="155.9" r="0.80" fill="#a86050"/>
<circle cx="476.7" cy="141.5" r="1.09" fill="#d87a30"/>
<circle cx="475.0" cy="145.8" r="0.99" fill="#f03028"/>
<circle cx="444.4" cy="123.9" r="0.72" fill="#e8402a"/>
<circle cx="463.8" cy="156.2" r="0.63" fill="#d87a30"/>
<circle cx="452.2" cy="140.8" r="1.18" fill="#f03028"/>
<circle cx="451.8" cy="146.3" r="0.41" fill="#e8402a"/>
<circle cx="460.2" cy="149.4" r="1.09" fill="#c8a040"/>
<circle cx="461.0" cy="146.5" r="0.94" fill="#e8402a"/>
<circle cx="451.0" cy="153.0" r="1.06" fill="#a86050"/>
<circle cx="449.6" cy="155.6" r="0.94" fill="#f03028"/>
<circle cx="446.5" cy="151.9" r="0.46" fill="#a86050"/>
<circle cx="465.1" cy="115.9" r="1.06" fill="#f03028"/>
<circle cx="475.3" cy="138.2" r="0.65" fill="#f03028"/>
<circle cx="444.7" cy="134.6" r="0.96" fill="#c8a040"/>
<circle cx="443.7" cy="128.3" r="0.55" fill="#d87a30"/>
<circle cx="444.0" cy="140.6" r="0.44" fill="#f03028"/>
<circle cx="447.3" cy="119.5" r="0.51" fill="#c8a040"/>
<circle cx="479.3" cy="131.5" r="1.10" fill="#f03028"/>
<circle cx="470.1" cy="153.9" r="0.91" fill="#a86050"/>
<circle cx="467.5" cy="145.3" r="0.50" fill="#e8402a"/>
<circle cx="462.1" cy="129.8" r="0.53" fill="#e8402a"/>
<circle cx="449.5" cy="145.3" r="1.22" fill="#f03028"/>
<circle cx="465.0" cy="158.3" r="0.49" fill="#c8a040"/>
<circle cx="474.5" cy="149.3" r="1.16" fill="#c8a040"/>
<circle cx="444.6" cy="122.9" r="0.85" fill="#e8402a"/>
<circle cx="456.5" cy="160.5" r="1.30" fill="#c8a040"/>
<circle cx="456.9" cy="154.4" r="1.06" fill="#a86050"/>
<circle cx="477.6" cy="126.3" r="1.28" fill="#e8402a"/>
<circle cx="472.4" cy="155.1" r="0.92" fill="#c8a040"/>
<circle cx="451.5" cy="120.6" r="0.94" fill="#c8a040"/>
<circle cx="452.4" cy="133.2" r="0.93" fill="#e8402a"/>
<circle cx="452.1" cy="154.5" r="0.63" fill="#a86050"/>
<circle cx="477.6" cy="135.0" r="1.00" fill="#a86050"/>
<circle cx="462.1" cy="156.7" r="0.78" fill="#c8a040"/>
<circle cx="442.1" cy="147.9" r="0.76" fill="#e8402a"/>
<circle cx="472.8" cy="150.8" r="0.65" fill="#f03028"/>
<circle cx="450.5" cy="126.0" r="0.54" fill="#a86050"/>
<text x="482.60" y="87.30" font-size="10.6" text-anchor="middle" font-weight="normal" fill="#231f20" class="pl">Dual Core</text>
<text x="479.40" y="169.00" font-size="10.6" text-anchor="middle" font-weight="normal" fill="#231f20" class="pl">Single Core</text>
<clipPath id="cpd1"><rect x="12.9" y="201.0" width="161.6" height="162.0"/></clipPath>
<g clip-path="url(#cpd1)">
<rect x="12.9" y="201.0" width="161.6" height="162.0" fill="#85888b"/>
<g filter="url(#soft)">
<ellipse cx="82" cy="191" rx="27" ry="27" fill="url(#dropg)" stroke="#303234" stroke-width="1.15"/>
<ellipse cx="80.7" cy="206.7" rx="7.6" ry="7.6" fill="url(#gsp)"/><ellipse cx="80.7" cy="206.7" rx="7.6" ry="7.6" fill="url(#gring)" stroke="#4a6a52" stroke-width="0.5" stroke-opacity="0.85"/>
<ellipse cx="101.3" cy="243.6" rx="28" ry="28.7" transform="rotate(20 101.3 243.6)" fill="url(#dropg)" stroke="#303234" stroke-width="1.15"/>
<ellipse cx="87.3" cy="240.5" rx="10.2" ry="10.6" fill="url(#rsp)"/><ellipse cx="87.3" cy="240.5" rx="10.2" ry="10.6" fill="url(#rring)" stroke="#6a4444" stroke-width="0.5" stroke-opacity="0.85"/>
<ellipse cx="108.3" cy="247.7" rx="7.8" ry="8.5" fill="url(#gsp)"/><ellipse cx="108.3" cy="247.7" rx="7.8" ry="8.5" fill="url(#gring)" stroke="#4a6a52" stroke-width="0.5" stroke-opacity="0.85"/>
<ellipse cx="59.0" cy="285.5" rx="28.4" ry="26.2" fill="url(#dropg)" stroke="#303234" stroke-width="1.15"/>
<ellipse cx="57.8" cy="272.0" rx="9.6" ry="9.6" fill="url(#rsp)"/><ellipse cx="57.8" cy="272.0" rx="9.6" ry="9.6" fill="url(#rring)" stroke="#6a4444" stroke-width="0.5" stroke-opacity="0.85"/>
<ellipse cx="56.6" cy="300.0" rx="7.2" ry="7.2" fill="url(#gsp)"/><ellipse cx="56.6" cy="300.0" rx="7.2" ry="7.2" fill="url(#gring)" stroke="#4a6a52" stroke-width="0.5" stroke-opacity="0.85"/>
<ellipse cx="139.8" cy="283.0" rx="28.0" ry="27.8" fill="url(#dropg)" stroke="#303234" stroke-width="1.15"/>
<ellipse cx="140.5" cy="273.0" rx="7.0" ry="7.0" fill="url(#gsp)"/><ellipse cx="140.5" cy="273.0" rx="7.0" ry="7.0" fill="url(#gring)" stroke="#4a6a52" stroke-width="0.5" stroke-opacity="0.85"/>
<ellipse cx="135.4" cy="298.3" rx="10.4" ry="10.4" fill="url(#rsp)"/><ellipse cx="135.4" cy="298.3" rx="10.4" ry="10.4" fill="url(#rring)" stroke="#6a4444" stroke-width="0.5" stroke-opacity="0.85"/>
<ellipse cx="14.5" cy="319.5" rx="28" ry="27.2" fill="url(#dropg)" stroke="#303234" stroke-width="1.15"/>
<ellipse cx="19.8" cy="319.4" rx="7.0" ry="7.0" fill="url(#gsp)"/><ellipse cx="19.8" cy="319.4" rx="7.0" ry="7.0" fill="url(#gring)" stroke="#4a6a52" stroke-width="0.5" stroke-opacity="0.85"/>
<ellipse cx="14.1" cy="335.5" rx="6.0" ry="6.0" fill="url(#rsp)"/><ellipse cx="14.1" cy="335.5" rx="6.0" ry="6.0" fill="url(#rring)" stroke="#6a4444" stroke-width="0.5" stroke-opacity="0.85"/>
<ellipse cx="92.3" cy="327.7" rx="27.6" ry="26.8" fill="url(#dropg)" stroke="#303234" stroke-width="1.15"/>
<ellipse cx="102.2" cy="323.2" rx="10.0" ry="10.0" fill="url(#rsp)"/><ellipse cx="102.2" cy="323.2" rx="10.0" ry="10.0" fill="url(#rring)" stroke="#6a4444" stroke-width="0.5" stroke-opacity="0.85"/>
<ellipse cx="91.5" cy="345.2" rx="7.4" ry="7.4" fill="url(#gsp)"/><ellipse cx="91.5" cy="345.2" rx="7.4" ry="7.4" fill="url(#gring)" stroke="#4a6a52" stroke-width="0.5" stroke-opacity="0.85"/>
</g></g>
<clipPath id="cpd2"><rect x="180.8" y="201.6" width="161.3" height="161.4"/></clipPath>
<g clip-path="url(#cpd2)">
<rect x="180.8" y="201.6" width="161.3" height="161.4" fill="#888b8d"/>
<g filter="url(#soft)">
<ellipse cx="190" cy="204" rx="27.5" ry="27.5" fill="url(#dropg)" stroke="#303234" stroke-width="1.15"/>
<ellipse cx="203.0" cy="202.5" rx="10.7" ry="9.5" fill="url(#msp)"/><ellipse cx="203.0" cy="202.5" rx="10.7" ry="9.5" fill="url(#mring)" stroke="#5a5a40" stroke-width="0.5" stroke-opacity="0.85"/>
<ellipse cx="252.3" cy="232.0" rx="26.5" ry="28.2" transform="rotate(4 252.3 232.0)" fill="url(#dropg)" stroke="#303234" stroke-width="1.15"/>
<ellipse cx="248.8" cy="232.6" rx="9.0" ry="9.0" fill="url(#rsp)"/><ellipse cx="248.8" cy="232.6" rx="9.0" ry="9.0" fill="url(#qring)" stroke="#6a4848" stroke-width="0.5" stroke-opacity="0.85"/>
<ellipse cx="268.0" cy="223.4" rx="7.7" ry="8.7" fill="url(#gsp)"/><ellipse cx="268.0" cy="223.4" rx="7.7" ry="8.7" fill="url(#gring)" stroke="#4a6a52" stroke-width="0.5" stroke-opacity="0.85"/>
<ellipse cx="300.5" cy="182.1" rx="27.5" ry="27.5" fill="url(#dropg)" stroke="#303234" stroke-width="1.15"/>
<ellipse cx="362" cy="212" rx="27" ry="27" fill="url(#dropg)" stroke="#303234" stroke-width="1.15"/>
<ellipse cx="313.3" cy="237.0" rx="26.0" ry="28.5" transform="rotate(15 313.3 237.0)" fill="url(#dropg)" stroke="#303234" stroke-width="1.15"/>
<ellipse cx="298.6" cy="228.4" rx="7.5" ry="8" fill="url(#gsp)"/><ellipse cx="298.6" cy="228.4" rx="7.5" ry="8" fill="url(#gring)" stroke="#4a6a52" stroke-width="0.5" stroke-opacity="0.85"/>
<ellipse cx="310.1" cy="247.0" rx="8.5" ry="8.5" fill="url(#rsp)"/><ellipse cx="310.1" cy="247.0" rx="8.5" ry="8.5" fill="url(#qring)" stroke="#6a4848" stroke-width="0.5" stroke-opacity="0.85"/>
<ellipse cx="209.4" cy="302.5" rx="26.8" ry="28.5" fill="url(#dropg)" stroke="#303234" stroke-width="1.15"/>
<ellipse cx="199.9" cy="296.8" rx="8" ry="8" fill="url(#gsp)"/><ellipse cx="199.9" cy="296.8" rx="8" ry="8" fill="url(#gring)" stroke="#4a6a52" stroke-width="0.5" stroke-opacity="0.85"/>
<ellipse cx="228.1" cy="301.3" rx="7.5" ry="9" fill="url(#rsp)"/><ellipse cx="228.1" cy="301.3" rx="7.5" ry="9" fill="url(#rring)" stroke="#6a4444" stroke-width="0.5" stroke-opacity="0.85"/>
<ellipse cx="275.0" cy="298.0" rx="28.0" ry="28.5" fill="url(#dropg)" stroke="#303234" stroke-width="1.15"/>
<ellipse cx="275.8" cy="286.6" rx="8.5" ry="8.5" fill="url(#gsp)"/><ellipse cx="275.8" cy="286.6" rx="8.5" ry="8.5" fill="url(#gring)" stroke="#4a6a52" stroke-width="0.5" stroke-opacity="0.85"/>
<ellipse cx="271.3" cy="314.9" rx="8.5" ry="8.5" fill="url(#rsp)"/><ellipse cx="271.3" cy="314.9" rx="8.5" ry="8.5" fill="url(#rring)" stroke="#6a4444" stroke-width="0.5" stroke-opacity="0.85"/>
<ellipse cx="328.0" cy="322.7" rx="27.5" ry="27.0" fill="url(#dropg)" stroke="#303234" stroke-width="1.15"/>
<ellipse cx="323.2" cy="305.4" rx="8.5" ry="8.5" fill="url(#rsp)"/><ellipse cx="323.2" cy="305.4" rx="8.5" ry="8.5" fill="url(#rring)" stroke="#6a4444" stroke-width="0.5" stroke-opacity="0.85"/>
<ellipse cx="327.7" cy="329.5" rx="8" ry="8" fill="url(#gsp)"/><ellipse cx="327.7" cy="329.5" rx="8" ry="8" fill="url(#gring)" stroke="#4a6a52" stroke-width="0.5" stroke-opacity="0.85"/>
<ellipse cx="201" cy="361" rx="27.5" ry="27.5" fill="url(#dropg)" stroke="#303234" stroke-width="1.15"/>
<ellipse cx="204.8" cy="356.6" rx="8" ry="8" fill="url(#gsp)"/><ellipse cx="204.8" cy="356.6" rx="8" ry="8" fill="url(#gring)" stroke="#4a6a52" stroke-width="0.5" stroke-opacity="0.85"/>
<ellipse cx="252" cy="348" rx="27.5" ry="27.5" fill="url(#dropg)" stroke="#303234" stroke-width="1.15"/>
<ellipse cx="237.6" cy="340.1" rx="8.5" ry="8.5" fill="url(#rsp)"/><ellipse cx="237.6" cy="340.1" rx="8.5" ry="8.5" fill="url(#rring)" stroke="#6a4444" stroke-width="0.5" stroke-opacity="0.85"/>
<ellipse cx="248.8" cy="355.5" rx="8" ry="8" fill="url(#gsp)"/><ellipse cx="248.8" cy="355.5" rx="8" ry="8" fill="url(#gring)" stroke="#4a6a52" stroke-width="0.5" stroke-opacity="0.85"/>
</g></g>
<clipPath id="cpd3"><rect x="348.2" y="201.6" width="161.8" height="161.4"/></clipPath>
<g clip-path="url(#cpd3)">
<rect x="348.2" y="201.6" width="161.8" height="161.4" fill="#8f9294"/>
<g filter="url(#soft)">
<ellipse cx="376.3" cy="229.0" rx="27.6" ry="26.1" fill="url(#dropg)" stroke="#303234" stroke-width="1.15"/>
<ellipse cx="386.7" cy="222.6" rx="9.8" ry="10.3" fill="url(#gsp)"/><ellipse cx="386.7" cy="222.6" rx="9.8" ry="10.3" fill="url(#gring)" stroke="#4a6a52" stroke-width="0.5" stroke-opacity="0.85"/>
<ellipse cx="373.2" cy="211.0" rx="6.1" ry="6.1" fill="url(#rsp)"/><ellipse cx="373.2" cy="211.0" rx="6.1" ry="6.1" fill="url(#qring)" stroke="#6a4848" stroke-width="0.5" stroke-opacity="0.85"/>
<ellipse cx="424.8" cy="254.3" rx="27.6" ry="27.9" fill="url(#dropg)" stroke="#303234" stroke-width="1.15"/>
<ellipse cx="409.3" cy="253.5" rx="9.8" ry="10.5" fill="url(#gsp)"/><ellipse cx="409.3" cy="253.5" rx="9.8" ry="10.5" fill="url(#gring)" stroke="#4a6a52" stroke-width="0.5" stroke-opacity="0.85"/>
<ellipse cx="440.2" cy="261.3" rx="6.6" ry="7.8" fill="url(#rsp)"/><ellipse cx="440.2" cy="261.3" rx="6.6" ry="7.8" fill="url(#qring)" stroke="#6a4848" stroke-width="0.5" stroke-opacity="0.85"/>
<ellipse cx="476.3" cy="229.2" rx="25.8" ry="27.2" fill="url(#dropg)" stroke="#303234" stroke-width="1.15"/>
<ellipse cx="465.7" cy="226.5" rx="9.8" ry="11" fill="url(#gsp)"/><ellipse cx="465.7" cy="226.5" rx="9.8" ry="11" fill="url(#gring)" stroke="#4a6a52" stroke-width="0.5" stroke-opacity="0.85"/>
<ellipse cx="493.4" cy="231.9" rx="6.5" ry="8" fill="url(#rsp)"/><ellipse cx="493.4" cy="231.9" rx="6.5" ry="8" fill="url(#rring)" stroke="#6a4444" stroke-width="0.5" stroke-opacity="0.85"/>
<ellipse cx="379" cy="284" rx="26.3" ry="26.3" fill="url(#dropg)" stroke="#303234" stroke-width="1.15"/>
<ellipse cx="378.1" cy="269.9" rx="10.3" ry="10.3" fill="url(#gsp)"/><ellipse cx="378.1" cy="269.9" rx="10.3" ry="10.3" fill="url(#gring)" stroke="#4a6a52" stroke-width="0.5" stroke-opacity="0.85"/>
<ellipse cx="397.0" cy="280.5" rx="6.5" ry="6.5" fill="url(#rsp)"/><ellipse cx="397.0" cy="280.5" rx="6.5" ry="6.5" fill="url(#qring)" stroke="#6a4848" stroke-width="0.5" stroke-opacity="0.85"/>
<ellipse cx="327.5" cy="266" rx="28" ry="28" fill="url(#dropg)" stroke="#303234" stroke-width="1.15"/>
<ellipse cx="349.9" cy="269.9" rx="6" ry="6" fill="url(#gsp)"/><ellipse cx="349.9" cy="269.9" rx="6" ry="6" fill="url(#gring)" stroke="#4a6a52" stroke-width="0.5" stroke-opacity="0.85"/>
<ellipse cx="530" cy="212" rx="28" ry="28" fill="url(#dropg)" stroke="#303234" stroke-width="1.15"/>
<ellipse cx="521" cy="268" rx="27.5" ry="27.5" fill="url(#dropg)" stroke="#303234" stroke-width="1.15"/>
<ellipse cx="506.9" cy="264.3" rx="6" ry="6" fill="url(#rsp)"/><ellipse cx="506.9" cy="264.3" rx="6" ry="6" fill="url(#qring)" stroke="#6a4848" stroke-width="0.5" stroke-opacity="0.85"/>
<ellipse cx="505.7" cy="278" rx="6.5" ry="6.5" fill="url(#gsp)"/><ellipse cx="505.7" cy="278" rx="6.5" ry="6.5" fill="url(#gring)" stroke="#4a6a52" stroke-width="0.5" stroke-opacity="0.85"/>
<ellipse cx="460.0" cy="305.6" rx="26.9" ry="27.2" fill="url(#dropg)" stroke="#303234" stroke-width="1.15"/>
<ellipse cx="452.4" cy="304.0" rx="10" ry="10.5" fill="url(#gsp)"/><ellipse cx="452.4" cy="304.0" rx="10" ry="10.5" fill="url(#gring)" stroke="#4a6a52" stroke-width="0.5" stroke-opacity="0.85"/>
<ellipse cx="476.2" cy="296.7" rx="6" ry="6" fill="url(#rsp)"/><ellipse cx="476.2" cy="296.7" rx="6" ry="6" fill="url(#qring)" stroke="#6a4848" stroke-width="0.5" stroke-opacity="0.85"/>
<ellipse cx="410.2" cy="328.6" rx="28.4" ry="27.9" fill="url(#dropg)" stroke="#303234" stroke-width="1.15"/>
<ellipse cx="399.5" cy="326.1" rx="9.8" ry="10.5" fill="url(#gsp)"/><ellipse cx="399.5" cy="326.1" rx="9.8" ry="10.5" fill="url(#gring)" stroke="#4a6a52" stroke-width="0.5" stroke-opacity="0.85"/>
<ellipse cx="417.4" cy="344.3" rx="7" ry="7" fill="url(#rsp)"/><ellipse cx="417.4" cy="344.3" rx="7" ry="7" fill="url(#qring)" stroke="#6a4848" stroke-width="0.5" stroke-opacity="0.85"/>
<ellipse cx="366" cy="386" rx="27.5" ry="27.5" fill="url(#dropg)" stroke="#303234" stroke-width="1.15"/>
</g></g>
<text x="16.60" y="214.00" font-size="9.6" text-anchor="start" font-weight="normal" fill="#1f1f1f" letter-spacing="0.3" class="pl" style="stroke-width:0.3px">0.3 : 0.7</text>
<text x="185.30" y="214.20" font-size="9.6" text-anchor="start" font-weight="normal" fill="#1f1f1f" letter-spacing="0.3" class="pl" style="stroke-width:0.3px">0.5 : 0.5</text>
<text x="349.60" y="214.20" font-size="9.6" text-anchor="start" font-weight="normal" fill="#1f1f1f" letter-spacing="0.3" class="pl" style="stroke-width:0.3px">0.7 : 0.3 µl/min</text>
<text x="486.70" y="351.60" font-size="10" text-anchor="middle" font-weight="normal" fill="#111" class="pl">200 µm</text>
<rect x="475.9" y="355.0" width="27.7" height="3.4" fill="#111"/>
<g class="c">
<rect x="137.1" y="15.3" width="26.900000000000006" height="122.7" fill="#f6d6d3"/>
<rect x="164.0" y="15.3" width="97.30000000000001" height="122.7" fill="#c3d3ec"/>
<line x1="152.0" y1="42.2" x2="152.0" y2="38.0" stroke="#231f20" stroke-width="1.3"/>
<line x1="147.85" y1="38.7" x2="156.15" y2="38.7" stroke="#231f20" stroke-width="1.5"/>
<rect x="145.10" y="42.20" width="13.80" height="95.80" fill="#8e8585" stroke="#000" stroke-width="2.0"/>
<line x1="175.3" y1="39.0" x2="175.3" y2="35.4" stroke="#231f20" stroke-width="1.3"/>
<line x1="171.15" y1="36.1" x2="179.45000000000002" y2="36.1" stroke="#231f20" stroke-width="1.5"/>
<rect x="168.40" y="39.00" width="13.80" height="99.00" fill="#9b9c9f" stroke="#000" stroke-width="2.0"/>
<line x1="198.6" y1="48.0" x2="198.6" y2="43.0" stroke="#231f20" stroke-width="1.3"/>
<line x1="194.45" y1="43.7" x2="202.75" y2="43.7" stroke="#231f20" stroke-width="1.5"/>
<rect x="191.70" y="48.00" width="13.80" height="90.00" fill="#7d7f7f" stroke="#000" stroke-width="2.0"/>
<text x="199.10" y="43.94" font-size="9.0" text-anchor="middle" font-weight="normal" fill="#231f20" letter-spacing="1.0" style="stroke-width:0.15px">*</text>
<line x1="221.7" y1="53.4" x2="221.7" y2="49.0" stroke="#231f20" stroke-width="1.3"/>
<line x1="217.54999999999998" y1="49.7" x2="225.85" y2="49.7" stroke="#231f20" stroke-width="1.5"/>
<rect x="214.80" y="53.40" width="13.80" height="84.60" fill="#cfd0cd" stroke="#000" stroke-width="2.0"/>
<text x="222.20" y="49.54" font-size="9.0" text-anchor="middle" font-weight="normal" fill="#231f20" letter-spacing="1.0" style="stroke-width:0.15px">*</text>
<line x1="245.2" y1="57.8" x2="245.2" y2="52.9" stroke="#231f20" stroke-width="1.3"/>
<line x1="241.04999999999998" y1="53.6" x2="249.35" y2="53.6" stroke="#231f20" stroke-width="1.5"/>
<rect x="238.30" y="57.80" width="13.80" height="80.20" fill="#5c5f5f" stroke="#000" stroke-width="2.0"/>
<text x="245.70" y="54.14" font-size="9.0" text-anchor="middle" font-weight="normal" fill="#231f20" letter-spacing="1.0" style="stroke-width:0.15px">*</text>
<line x1="136.2" y1="14.5" x2="136.2" y2="138.9" stroke="#000" stroke-width="1.8"/>
<line x1="135.29999999999998" y1="138.0" x2="261.3" y2="138.0" stroke="#000" stroke-width="1.8"/>
<line x1="130.3" y1="138.00" x2="136.2" y2="138.00" stroke="#000" stroke-width="1.8"/>
<text x="128.30" y="141.13" font-size="8.7" text-anchor="end" font-weight="normal" fill="#231f20" >0</text>
<line x1="130.3" y1="113.44" x2="136.2" y2="113.44" stroke="#000" stroke-width="1.8"/>
<text x="128.30" y="116.57" font-size="8.7" text-anchor="end" font-weight="normal" fill="#231f20" >100</text>
<line x1="130.3" y1="88.88" x2="136.2" y2="88.88" stroke="#000" stroke-width="1.8"/>
<text x="128.30" y="92.01" font-size="8.7" text-anchor="end" font-weight="normal" fill="#231f20" >200</text>
<line x1="130.3" y1="64.32" x2="136.2" y2="64.32" stroke="#000" stroke-width="1.8"/>
<text x="128.30" y="67.45" font-size="8.7" text-anchor="end" font-weight="normal" fill="#231f20" >300</text>
<line x1="130.3" y1="39.76" x2="136.2" y2="39.76" stroke="#000" stroke-width="1.8"/>
<text x="128.30" y="42.89" font-size="8.7" text-anchor="end" font-weight="normal" fill="#231f20" >400</text>
<line x1="130.3" y1="15.20" x2="136.2" y2="15.20" stroke="#000" stroke-width="1.8"/>
<text x="128.30" y="18.33" font-size="8.7" text-anchor="end" font-weight="normal" fill="#231f20" >500</text>
<line x1="152.0" y1="138.0" x2="152.0" y2="143.5" stroke="#000" stroke-width="1.8"/>
<text x="152.00" y="151.50" font-size="8.7" text-anchor="middle" font-weight="normal" fill="#231f20" >10</text>
<line x1="175.3" y1="138.0" x2="175.3" y2="143.5" stroke="#000" stroke-width="1.8"/>
<text x="175.30" y="151.50" font-size="8.7" text-anchor="middle" font-weight="normal" fill="#231f20" >20</text>
<line x1="198.4" y1="138.0" x2="198.4" y2="143.5" stroke="#000" stroke-width="1.8"/>
<text x="198.40" y="151.50" font-size="8.7" text-anchor="middle" font-weight="normal" fill="#231f20" >30</text>
<line x1="221.5" y1="138.0" x2="221.5" y2="143.5" stroke="#000" stroke-width="1.8"/>
<text x="221.50" y="151.50" font-size="8.7" text-anchor="middle" font-weight="normal" fill="#231f20" >40</text>
<line x1="244.8" y1="138.0" x2="244.8" y2="143.5" stroke="#000" stroke-width="1.8"/>
<text x="244.80" y="151.50" font-size="8.7" text-anchor="middle" font-weight="normal" fill="#231f20" >60</text>
<text x="198.30" y="161.60" font-size="9.2" text-anchor="middle" font-weight="normal" fill="#231f20" >Oil Flow Rate (µl/min)</text>
<text x="108.90" y="75.80" font-size="9.2" text-anchor="middle" font-weight="normal" fill="#231f20" transform="rotate(-90 108.9 75.8)">Diameter (mm)</text>
<line x1="325.3" y1="51.1" x2="325.3" y2="48.0" stroke="#231f20" stroke-width="1.3"/>
<line x1="320.55" y1="48.7" x2="330.05" y2="48.7" stroke="#231f20" stroke-width="1.5"/>
<rect x="316.80" y="51.10" width="17.00" height="86.70" fill="#231f20" stroke="#000" stroke-width="2.0"/>
<line x1="353.6" y1="43.0" x2="353.6" y2="41.4" stroke="#231f20" stroke-width="1.3"/>
<line x1="348.85" y1="42.1" x2="358.35" y2="42.1" stroke="#231f20" stroke-width="1.5"/>
<rect x="345.10" y="43.00" width="17.00" height="94.80" fill="#939598" stroke="#000" stroke-width="2.0"/>
<text x="354.10" y="41.04" font-size="9.0" text-anchor="middle" font-weight="normal" fill="#231f20" letter-spacing="1.0" style="stroke-width:0.15px">***</text>
<line x1="382.0" y1="37.1" x2="382.0" y2="33.1" stroke="#231f20" stroke-width="1.3"/>
<line x1="377.25" y1="33.800000000000004" x2="386.75" y2="33.800000000000004" stroke="#231f20" stroke-width="1.5"/>
<rect x="373.50" y="37.10" width="17.00" height="100.70" fill="#6e7070" stroke="#000" stroke-width="2.0"/>
<text x="382.50" y="32.44" font-size="9.0" text-anchor="middle" font-weight="normal" fill="#231f20" letter-spacing="1.0" style="stroke-width:0.15px">**</text>
<line x1="410.3" y1="31.2" x2="410.3" y2="28.2" stroke="#231f20" stroke-width="1.3"/>
<line x1="405.55" y1="28.9" x2="415.05" y2="28.9" stroke="#231f20" stroke-width="1.5"/>
<rect x="401.80" y="31.20" width="17.00" height="106.60" fill="#d1d3d2" stroke="#000" stroke-width="2.0"/>
<text x="410.80" y="28.54" font-size="9.0" text-anchor="middle" font-weight="normal" fill="#231f20" letter-spacing="1.0" style="stroke-width:0.15px">*</text>
<line x1="306.5" y1="14.3" x2="306.5" y2="138.55" stroke="#000" stroke-width="1.5"/>
<line x1="305.75" y1="137.8" x2="430.6" y2="137.8" stroke="#000" stroke-width="1.5"/>
<line x1="300.5" y1="137.80" x2="306.5" y2="137.80" stroke="#000" stroke-width="1.5"/>
<text x="299.40" y="140.82" font-size="8.4" text-anchor="end" font-weight="normal" fill="#231f20" >0</text>
<line x1="300.5" y1="113.18" x2="306.5" y2="113.18" stroke="#000" stroke-width="1.5"/>
<text x="299.40" y="116.20" font-size="8.4" text-anchor="end" font-weight="normal" fill="#231f20" >100</text>
<line x1="300.5" y1="88.56" x2="306.5" y2="88.56" stroke="#000" stroke-width="1.5"/>
<text x="299.40" y="91.58" font-size="8.4" text-anchor="end" font-weight="normal" fill="#231f20" >200</text>
<line x1="300.5" y1="63.94" x2="306.5" y2="63.94" stroke="#000" stroke-width="1.5"/>
<text x="299.40" y="66.96" font-size="8.4" text-anchor="end" font-weight="normal" fill="#231f20" >300</text>
<line x1="300.5" y1="39.32" x2="306.5" y2="39.32" stroke="#000" stroke-width="1.5"/>
<text x="299.40" y="42.34" font-size="8.4" text-anchor="end" font-weight="normal" fill="#231f20" >400</text>
<line x1="300.5" y1="14.70" x2="306.5" y2="14.70" stroke="#000" stroke-width="1.5"/>
<text x="299.40" y="17.72" font-size="8.4" text-anchor="end" font-weight="normal" fill="#231f20" >500</text>
<line x1="325.2" y1="137.8" x2="325.2" y2="143.3" stroke="#000" stroke-width="1.5"/>
<text x="325.20" y="151.80" font-size="8.4" text-anchor="middle" font-weight="normal" fill="#231f20" >2</text>
<line x1="353.8" y1="137.8" x2="353.8" y2="143.3" stroke="#000" stroke-width="1.5"/>
<text x="353.80" y="151.80" font-size="8.4" text-anchor="middle" font-weight="normal" fill="#231f20" >4</text>
<line x1="381.8" y1="137.8" x2="381.8" y2="143.3" stroke="#000" stroke-width="1.5"/>
<text x="381.80" y="151.80" font-size="8.4" text-anchor="middle" font-weight="normal" fill="#231f20" >6</text>
<line x1="410.1" y1="137.8" x2="410.1" y2="143.3" stroke="#000" stroke-width="1.5"/>
<text x="410.10" y="151.80" font-size="8.4" text-anchor="middle" font-weight="normal" fill="#231f20" >8</text>
<text x="368.20" y="162.00" font-size="9.2" text-anchor="middle" font-weight="normal" fill="#231f20" >Shell Flow Rate (µl/min)</text>
<text x="278.60" y="76.00" font-size="9.2" text-anchor="middle" font-weight="normal" fill="#231f20" transform="rotate(-90 278.6 76.0)">Diameter (mm)</text>
<rect x="562.0" y="18.1" width="71.39999999999998" height="122.9" fill="#f8f4d3"/>
<rect x="633.4" y="18.1" width="48.60000000000002" height="122.9" fill="#dce8cf"/>
<line x1="576.4" y1="93.8" x2="576.4" y2="88.0" stroke="#231f20" stroke-width="1.3"/>
<line x1="572.25" y1="88.7" x2="580.55" y2="88.7" stroke="#231f20" stroke-width="1.5"/>
<rect x="569.60" y="93.80" width="13.60" height="47.20" fill="#8b8c84" stroke="#000" stroke-width="2.0"/>
<line x1="599.4" y1="86.1" x2="599.4" y2="79.3" stroke="#231f20" stroke-width="1.3"/>
<line x1="595.25" y1="80.0" x2="603.55" y2="80.0" stroke="#231f20" stroke-width="1.5"/>
<rect x="592.60" y="86.10" width="13.60" height="54.90" fill="#939598" stroke="#000" stroke-width="2.0"/>
<text x="599.90" y="79.54" font-size="9.0" text-anchor="middle" font-weight="normal" fill="#231f20" letter-spacing="1.0" style="stroke-width:0.15px">*</text>
<line x1="622.2" y1="78.0" x2="622.2" y2="74.1" stroke="#231f20" stroke-width="1.3"/>
<line x1="618.0500000000001" y1="74.8" x2="626.35" y2="74.8" stroke="#231f20" stroke-width="1.5"/>
<rect x="615.40" y="78.00" width="13.60" height="63.00" fill="#787a7a" stroke="#000" stroke-width="2.0"/>
<text x="622.70" y="74.14" font-size="9.0" text-anchor="middle" font-weight="normal" fill="#231f20" letter-spacing="1.0" style="stroke-width:0.15px">*</text>
<line x1="645.3" y1="55.4" x2="645.3" y2="42.4" stroke="#231f20" stroke-width="1.3"/>
<line x1="641.15" y1="43.1" x2="649.4499999999999" y2="43.1" stroke="#231f20" stroke-width="1.5"/>
<rect x="638.50" y="55.40" width="13.60" height="85.60" fill="#cfd0cf" stroke="#000" stroke-width="2.0"/>
<text x="645.80" y="42.14" font-size="9.0" text-anchor="middle" font-weight="normal" fill="#231f20" letter-spacing="1.0" style="stroke-width:0.15px">*</text>
<line x1="668.2" y1="33.2" x2="668.2" y2="24.5" stroke="#231f20" stroke-width="1.3"/>
<line x1="664.0500000000001" y1="25.2" x2="672.35" y2="25.2" stroke="#231f20" stroke-width="1.5"/>
<rect x="661.40" y="33.20" width="13.60" height="107.80" fill="#5d6060" stroke="#000" stroke-width="2.0"/>
<text x="668.70" y="25.34" font-size="9.0" text-anchor="middle" font-weight="normal" fill="#231f20" letter-spacing="1.0" style="stroke-width:0.15px">*</text>
<line x1="561.2" y1="17.8" x2="561.2" y2="141.9" stroke="#000" stroke-width="1.8"/>
<line x1="560.3000000000001" y1="141.0" x2="685" y2="141.0" stroke="#000" stroke-width="1.8"/>
<line x1="554.6" y1="141.00" x2="561.2" y2="141.00" stroke="#000" stroke-width="1.8"/>
<text x="552.60" y="144.17" font-size="8.8" text-anchor="end" font-weight="normal" fill="#231f20" >0</text>
<line x1="554.6" y1="116.54" x2="561.2" y2="116.54" stroke="#000" stroke-width="1.8"/>
<text x="552.60" y="119.71" font-size="8.8" text-anchor="end" font-weight="normal" fill="#231f20" >50</text>
<line x1="554.6" y1="92.08" x2="561.2" y2="92.08" stroke="#000" stroke-width="1.8"/>
<text x="552.60" y="95.25" font-size="8.8" text-anchor="end" font-weight="normal" fill="#231f20" >100</text>
<line x1="554.6" y1="67.62" x2="561.2" y2="67.62" stroke="#000" stroke-width="1.8"/>
<text x="552.60" y="70.79" font-size="8.8" text-anchor="end" font-weight="normal" fill="#231f20" >150</text>
<line x1="554.6" y1="43.16" x2="561.2" y2="43.16" stroke="#000" stroke-width="1.8"/>
<text x="552.60" y="46.33" font-size="8.8" text-anchor="end" font-weight="normal" fill="#231f20" >200</text>
<line x1="554.6" y1="18.70" x2="561.2" y2="18.70" stroke="#000" stroke-width="1.8"/>
<text x="552.60" y="21.87" font-size="8.8" text-anchor="end" font-weight="normal" fill="#231f20" >250</text>
<line x1="575.8" y1="141.0" x2="575.8" y2="146.5" stroke="#000" stroke-width="1.8"/>
<text x="575.80" y="156.00" font-size="8.8" text-anchor="middle" font-weight="normal" fill="#231f20" >0.125</text>
<line x1="599.4" y1="141.0" x2="599.4" y2="146.5" stroke="#000" stroke-width="1.8"/>
<text x="599.40" y="156.00" font-size="8.8" text-anchor="middle" font-weight="normal" fill="#231f20" >0.25</text>
<line x1="622.2" y1="141.0" x2="622.2" y2="146.5" stroke="#000" stroke-width="1.8"/>
<text x="622.20" y="156.00" font-size="8.8" text-anchor="middle" font-weight="normal" fill="#231f20" >0.5</text>
<line x1="645.3" y1="141.0" x2="645.3" y2="146.5" stroke="#000" stroke-width="1.8"/>
<text x="645.30" y="156.00" font-size="8.8" text-anchor="middle" font-weight="normal" fill="#231f20" >0.75</text>
<line x1="668.1" y1="141.0" x2="668.1" y2="146.5" stroke="#000" stroke-width="1.8"/>
<text x="668.10" y="156.00" font-size="8.8" text-anchor="middle" font-weight="normal" fill="#231f20" >1</text>
<text x="622.30" y="168.00" font-size="9.3" text-anchor="middle" font-weight="normal" fill="#231f20" >Core Flow Rate (µl/min)</text>
<text x="532.40" y="79.60" font-size="9.3" text-anchor="middle" font-weight="normal" fill="#231f20" transform="rotate(-90 532.4 79.6)">Diameter (µm)</text>
<line x1="583.6" y1="292.0" x2="583.6" y2="285.4" stroke="#231f20" stroke-width="1.3"/>
<line x1="579.45" y1="286.09999999999997" x2="587.75" y2="286.09999999999997" stroke="#231f20" stroke-width="1.5"/>
<rect x="576.70" y="292.00" width="13.80" height="37.00" fill="#8d8f91" stroke="#000" stroke-width="2.0"/>
<line x1="607.3" y1="274.6" x2="607.3" y2="265.6" stroke="#231f20" stroke-width="1.3"/>
<line x1="603.15" y1="266.3" x2="611.4499999999999" y2="266.3" stroke="#231f20" stroke-width="1.5"/>
<rect x="600.40" y="274.60" width="13.80" height="54.40" fill="#97999b" stroke="#000" stroke-width="2.0"/>
<text x="607.80" y="264.24" font-size="9.0" text-anchor="middle" font-weight="normal" fill="#231f20" letter-spacing="1.0" style="stroke-width:0.15px">*</text>
<line x1="630.7" y1="231.2" x2="630.7" y2="217.8" stroke="#231f20" stroke-width="1.3"/>
<line x1="626.5500000000001" y1="218.5" x2="634.85" y2="218.5" stroke="#231f20" stroke-width="1.5"/>
<rect x="623.80" y="231.20" width="13.80" height="97.80" fill="#6e7070" stroke="#000" stroke-width="2.0"/>
<text x="631.20" y="216.54" font-size="9.0" text-anchor="middle" font-weight="normal" fill="#231f20" letter-spacing="1.0" style="stroke-width:0.15px">**</text>
<line x1="567.6" y1="205.5" x2="567.6" y2="329.85" stroke="#000" stroke-width="1.7"/>
<line x1="566.75" y1="329.0" x2="648" y2="329.0" stroke="#000" stroke-width="1.7"/>
<line x1="561.6" y1="329.00" x2="567.6" y2="329.00" stroke="#000" stroke-width="1.7"/>
<text x="559.60" y="332.20" font-size="8.9" text-anchor="end" font-weight="normal" fill="#231f20" >0.0</text>
<line x1="561.6" y1="304.45" x2="567.6" y2="304.45" stroke="#000" stroke-width="1.7"/>
<text x="559.60" y="307.65" font-size="8.9" text-anchor="end" font-weight="normal" fill="#231f20" >0.5</text>
<line x1="561.6" y1="279.90" x2="567.6" y2="279.90" stroke="#000" stroke-width="1.7"/>
<text x="559.60" y="283.10" font-size="8.9" text-anchor="end" font-weight="normal" fill="#231f20" >1.0</text>
<line x1="561.6" y1="255.35" x2="567.6" y2="255.35" stroke="#000" stroke-width="1.7"/>
<text x="559.60" y="258.55" font-size="8.9" text-anchor="end" font-weight="normal" fill="#231f20" >1.5</text>
<line x1="561.6" y1="230.80" x2="567.6" y2="230.80" stroke="#000" stroke-width="1.7"/>
<text x="559.60" y="234.00" font-size="8.9" text-anchor="end" font-weight="normal" fill="#231f20" >2.0</text>
<line x1="561.6" y1="206.25" x2="567.6" y2="206.25" stroke="#000" stroke-width="1.7"/>
<text x="559.60" y="209.45" font-size="8.9" text-anchor="end" font-weight="normal" fill="#231f20" >2.5</text>
<line x1="583.8" y1="329.0" x2="583.8" y2="334.5" stroke="#000" stroke-width="1.7"/>
<text x="583.80" y="343.30" font-size="8.9" text-anchor="middle" font-weight="normal" fill="#231f20" >0.3</text>
<line x1="606.9" y1="329.0" x2="606.9" y2="334.5" stroke="#000" stroke-width="1.7"/>
<text x="606.90" y="343.30" font-size="8.9" text-anchor="middle" font-weight="normal" fill="#231f20" >0.5</text>
<line x1="630.5" y1="329.0" x2="630.5" y2="334.5" stroke="#000" stroke-width="1.7"/>
<text x="630.50" y="343.30" font-size="8.9" text-anchor="middle" font-weight="normal" fill="#231f20" >0.7</text>
<text x="607.20" y="355.20" font-size="9.2" text-anchor="middle" font-weight="normal" fill="#231f20" >Core Flow Rate (µl/min)</text>
<text x="540.60" y="267.40" font-size="9.2" text-anchor="middle" font-weight="normal" fill="#231f20" transform="rotate(-90 540.6 267.4)">Core Volume (nl)</text>
</g>
<text x="-1.10" y="10.70" font-size="16" text-anchor="start" font-weight="bold" fill="#000" >a</text>
<text x="271.80" y="10.80" font-size="16" text-anchor="start" font-weight="bold" fill="#000" >b</text>
<text x="523.60" y="10.60" font-size="16" text-anchor="start" font-weight="bold" fill="#000" >c</text>
<text x="-1.20" y="201.60" font-size="16" text-anchor="start" font-weight="bold" fill="#000" >d</text>
<text x="523.60" y="201.70" font-size="16" text-anchor="start" font-weight="bold" fill="#000" >e</text>
</svg>
</body></html>
